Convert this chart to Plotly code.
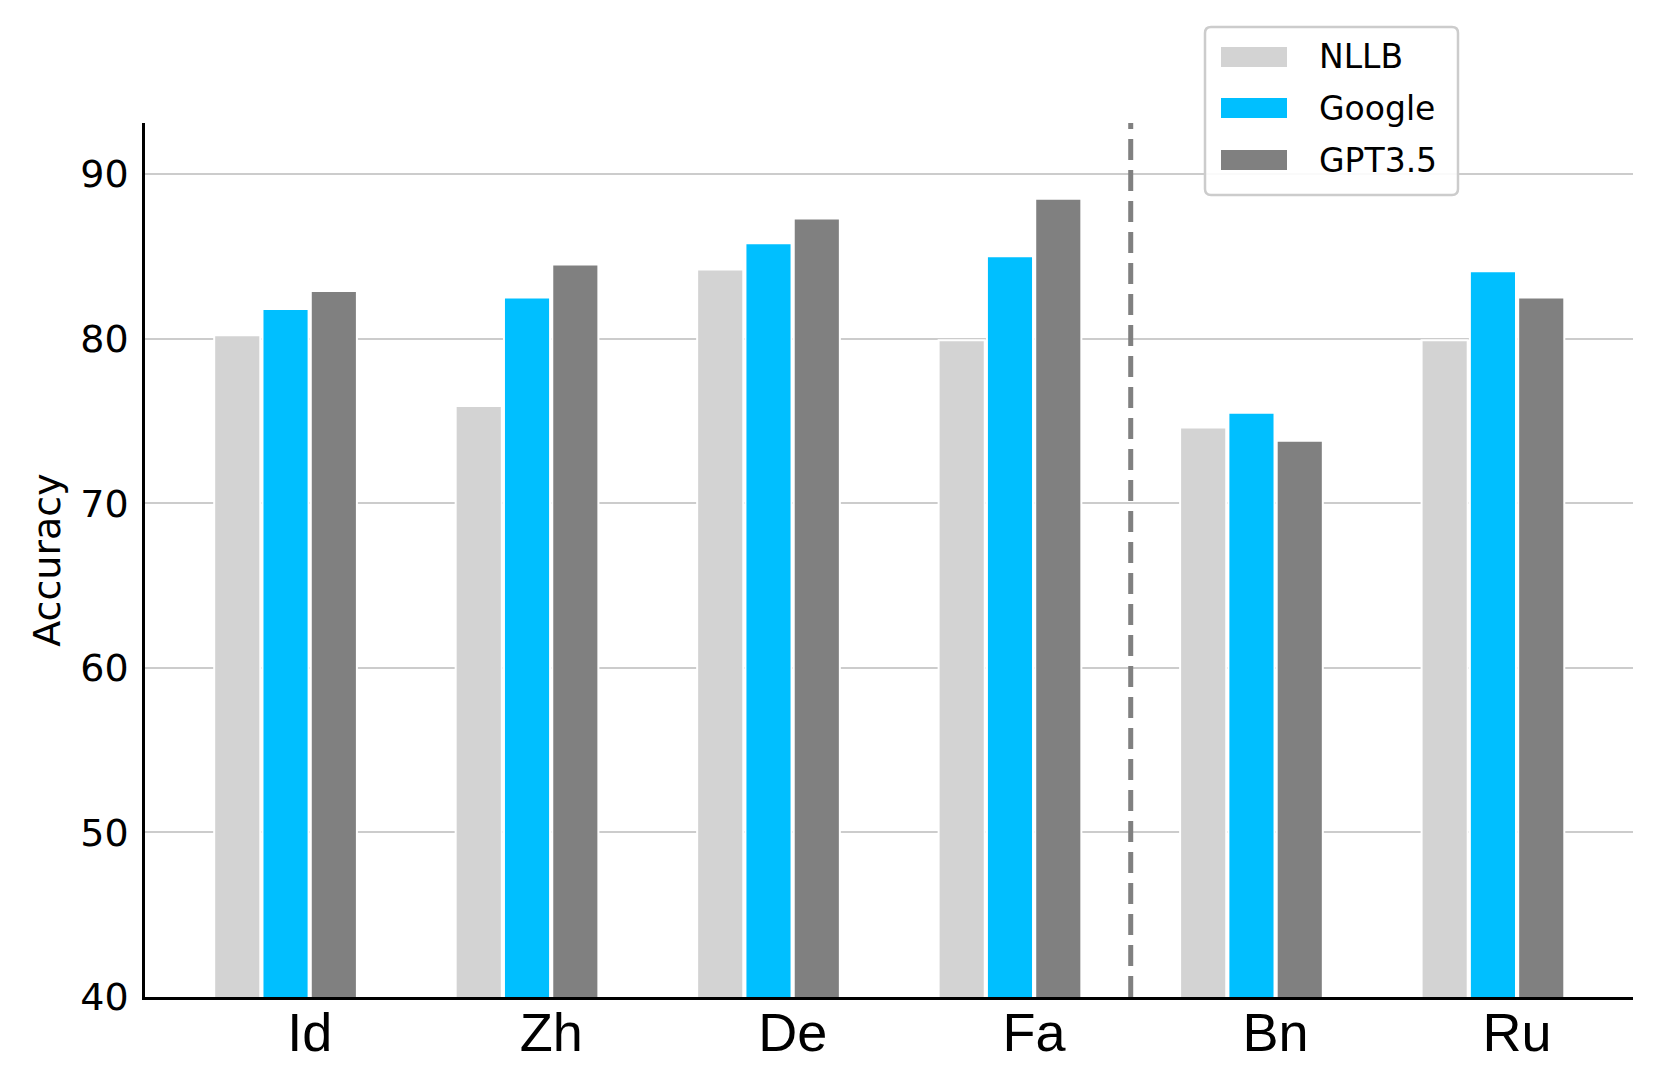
import plotly.graph_objects as go

# ---- data ----
categories = ["Id", "Zh", "De", "Fa", "Bn", "Ru"]
series_names = ["NLLB", "Google", "GPT3.5"]
nllb = [80.2, 75.9, 84.2, 79.9, 74.6, 79.9]
google = [81.8, 82.5, 85.8, 85.0, 75.5, 84.1]
gpt35 = [82.9, 84.5, 87.3, 88.5, 73.8, 82.5]
y_ticks = [40, 50, 60, 70, 80, 90]
colors = ["#d3d3d3", "#00bfff", "#808080"]
separator_after = 3  # dashed separator between Fa and Bn

# page has an 8px body margin; work in window pixels and convert
OFF = 8
W, H = 1662 - OFF, 1090 - OFF
ML, MR, MT, MB = 145 - OFF, 29, 123 - OFF, 93
PW, PH = W - ML - MR, H - MT - MB


def px_x(px):
    return (px - OFF - ML) / PW


def px_y(py):
    return (H - MB - (py - OFF)) / PH


xpos = list(range(len(categories)))
fig = go.Figure()
for name, vals, col in zip(series_names, [nllb, google, gpt35], colors):
    fig.add_trace(go.Bar(
        x=xpos, y=vals, name=name, width=0.191,
        marker=dict(color=col, line=dict(color="white", width=2)),
        showlegend=False,
    ))

# dashed separator
fig.add_shape(type="line", xref="x", yref="paper",
              x0=separator_after + 0.5, x1=separator_after + 0.5, y0=0, y1=1,
              line=dict(color="#808080", width=5, dash="21px,10px"), layer="above")

# custom legend (rounded box, wide swatches)
bx0, bx1, by0, by1, r = 1205, 1458, 27, 195, 6


def P(x, y):
    return f"{px_x(x):.6f},{px_y(y):.6f}"


path = (f"M {P(bx0 + r, by0)} L {P(bx1 - r, by0)} Q {P(bx1, by0)} {P(bx1, by0 + r)} "
        f"L {P(bx1, by1 - r)} Q {P(bx1, by1)} {P(bx1 - r, by1)} "
        f"L {P(bx0 + r, by1)} Q {P(bx0, by1)} {P(bx0, by1 - r)} "
        f"L {P(bx0, by0 + r)} Q {P(bx0, by0)} {P(bx0 + r, by0)} Z")
fig.add_shape(type="path", xref="paper", yref="paper", path=path,
              line=dict(color="#cccccc", width=2.5), fillcolor="rgba(255,255,255,0.9)",
              layer="above")
row_y = [57, 108, 160]
for name, col, ry in zip(series_names, colors, row_y):
    fig.add_shape(type="rect", xref="paper", yref="paper",
                  x0=px_x(1221), x1=px_x(1287), y0=px_y(ry + 10), y1=px_y(ry - 10),
                  line=dict(width=0), fillcolor=col, layer="above")
    fig.add_annotation(xref="paper", yref="paper", x=px_x(1317), y=px_y(ry),
                       xanchor="left", yanchor="middle", text=name, showarrow=False,
                       font=dict(family="DejaVu Sans", size=33, color="black"))

fig.update_layout(
    width=W, height=H,
    margin=dict(l=ML, r=MR, t=MT, b=MB, pad=0),
    paper_bgcolor="white", plot_bgcolor="white",
    barmode="group", bargap=0.4, bargroupgap=0,
    font=dict(family="DejaVu Sans", color="black"),
)
fig.update_xaxes(
    range=[-0.582, 5.58], tickmode="array",
    tickvals=[i + 0.1 for i in xpos], ticktext=categories,
    tickfont=dict(family="Liberation Sans", size=54, color="black"),
    showgrid=False, zeroline=False, showline=True, linecolor="black", linewidth=2.5,
    ticks="", ticklabelstandoff=-14,
)
fig.update_yaxes(
    range=[40, 93.1], tickmode="array", tickvals=y_ticks,
    tickfont=dict(family="DejaVu Sans", size=38, color="black"),
    showgrid=True, gridcolor="#cccccc", gridwidth=2,
    zeroline=False, showline=True, linecolor="black", linewidth=2.5,
    ticks="", ticklabelstandoff=6,
    title=dict(text="Accuracy", font=dict(family="DejaVu Sans", size=38, color="black"),
               standoff=8),
)

fig.write_html("out.html")
